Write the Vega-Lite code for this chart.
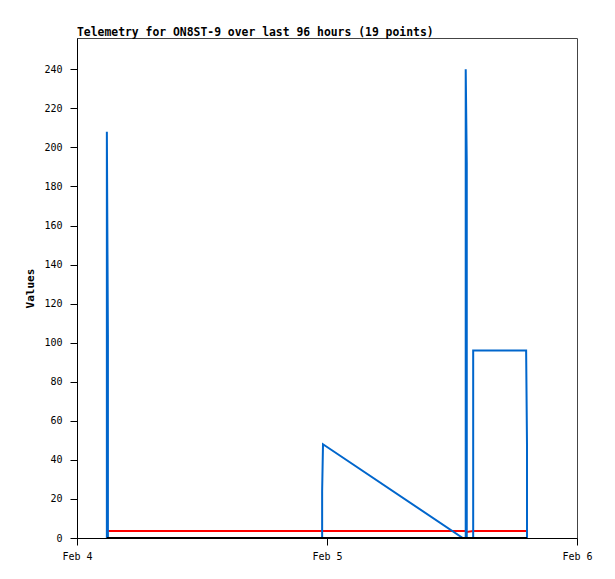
{
  "$schema": "https://vega.github.io/schema/vega-lite/v6.json",
  "autosize": "none",
  "width": 500,
  "height": 500,
  "padding": {"left": 77, "top": 38, "right": 38, "bottom": 41},
  "background": "white",
  "config": {
    "view": {"stroke": "#444444", "strokeWidth": 1},
    "font": "DejaVu Sans Mono",
    "axis": {
      "grid": false,
      "domainColor": "#000000",
      "tickColor": "#000000",
      "tickSize": 7,
      "labelFont": "DejaVu Sans Mono",
      "labelFontSize": 10,
      "labelColor": "#000000",
      "titleFont": "DejaVu Sans Mono",
      "titleFontSize": 11,
      "titleFontWeight": "bold",
      "titleColor": "#000000"
    }
  },
  "title": {
    "text": "Telemetry for ON8ST-9 over last 96 hours (19 points)",
    "anchor": "start",
    "frame": "group",
    "font": "DejaVu Sans Mono",
    "fontSize": 11.4,
    "fontWeight": "bold",
    "color": "#000000",
    "offset": 0
  },
  "datasets": {
    "blue": [
      {"i": 1, "t": "2024-02-04T02:52:00", "v": 0},
      {"i": 2, "t": "2024-02-04T02:52:00", "v": 208},
      {"i": 3, "t": "2024-02-04T02:58:00", "v": 104},
      {"i": 4, "t": "2024-02-04T02:58:00", "v": 0},
      {"i": 5, "t": "2024-02-04T23:32:00", "v": 0},
      {"i": 6, "t": "2024-02-04T23:32:00", "v": 24},
      {"i": 7, "t": "2024-02-04T23:37:00", "v": 48},
      {"i": 8, "t": "2024-02-05T13:02:00", "v": 0},
      {"i": 9, "t": "2024-02-05T13:19:00", "v": 0},
      {"i": 10, "t": "2024-02-05T13:19:00", "v": 240},
      {"i": 11, "t": "2024-02-05T13:25:00", "v": 192},
      {"i": 12, "t": "2024-02-05T13:25:00", "v": 0},
      {"i": 13, "t": "2024-02-05T14:02:00", "v": 0},
      {"i": 14, "t": "2024-02-05T14:02:00", "v": 96},
      {"i": 15, "t": "2024-02-05T19:07:00", "v": 96},
      {"i": 16, "t": "2024-02-05T19:12:00", "v": 48},
      {"i": 17, "t": "2024-02-05T19:12:00", "v": 0}
    ],
    "red": [
      {"t": "2024-02-04T02:52:00", "v": 3.6},
      {"t": "2024-02-04T02:58:00", "v": 3.6},
      {"t": "2024-02-04T23:32:00", "v": 3.6},
      {"t": "2024-02-04T23:37:00", "v": 3.6},
      {"t": "2024-02-05T13:02:00", "v": 3.6},
      {"t": "2024-02-05T13:19:00", "v": 3.6},
      {"t": "2024-02-05T13:25:00", "v": 3.1},
      {"t": "2024-02-05T14:02:00", "v": 3.6},
      {"t": "2024-02-05T19:07:00", "v": 3.6},
      {"t": "2024-02-05T19:12:00", "v": 3.6}
    ],
    "black": [
      {"t": "2024-02-04T02:52:00", "v": 0},
      {"t": "2024-02-04T23:32:00", "v": 0},
      {"t": "2024-02-05T13:02:00", "v": 0},
      {"t": "2024-02-05T14:02:00", "v": 0},
      {"t": "2024-02-05T19:12:00", "v": 0}
    ]
  },
  "encoding": {
    "x": {
      "field": "t",
      "type": "temporal",
      "scale": {
        "domain": [
          {"year": 2024, "month": 2, "date": 4},
          {"year": 2024, "month": 2, "date": 6}
        ],
        "nice": false
      },
      "axis": {
        "title": null,
        "format": "%b %-d",
        "values": [
          {"year": 2024, "month": 2, "date": 4},
          {"year": 2024, "month": 2, "date": 5},
          {"year": 2024, "month": 2, "date": 6}
        ],
        "labelPadding": 6,
        "labelFlush": false,
        "labelOverlap": false
      }
    },
    "y": {
      "field": "v",
      "type": "quantitative",
      "scale": {"domain": [0, 256], "nice": false},
      "axis": {
        "title": "Values",
        "values": [0, 20, 40, 60, 80, 100, 120, 140, 160, 180, 200, 220, 240],
        "labelPadding": 8,
        "titlePadding": 8
      }
    }
  },
  "layer": [
    {
      "data": {"name": "red"},
      "mark": {"type": "line", "color": "#FF0000", "strokeWidth": 2, "clip": true},
      "encoding": {}
    },
    {
      "data": {"name": "blue"},
      "mark": {"type": "line", "color": "#0066CC", "strokeWidth": 2, "clip": true},
      "encoding": {"order": {"field": "i", "type": "quantitative"}}
    },
    {
      "data": {"name": "black"},
      "mark": {"type": "line", "color": "#000000", "strokeWidth": 2, "clip": true},
      "encoding": {}
    }
  ]
}
